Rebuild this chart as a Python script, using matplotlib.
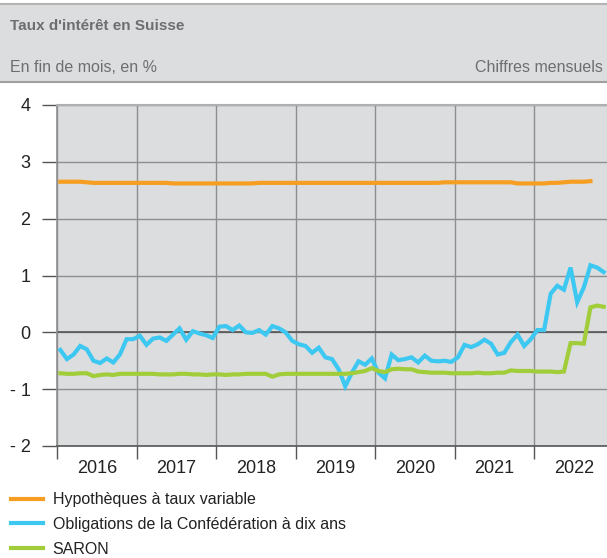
import numpy as np
import matplotlib
matplotlib.use('Agg')
from matplotlib import pyplot as plt
from matplotlib.lines import Line2D

plt.rcParams['font.family'] = ['Liberation Sans', 'DejaVu Sans']

# monthly values, Jan 2016 onward
hypotheques = [
    2.65, 2.65, 2.65, 2.65, 2.64, 2.63, 2.63, 2.63, 2.63, 2.63, 2.63, 2.63,
    2.63, 2.63, 2.63, 2.63, 2.63, 2.62, 2.62, 2.62, 2.62, 2.62, 2.62, 2.62,
    2.62, 2.62, 2.62, 2.62, 2.62, 2.62, 2.63, 2.63, 2.63, 2.63, 2.63, 2.63,
    2.63, 2.63, 2.63, 2.63, 2.63, 2.63, 2.63, 2.63, 2.63, 2.63, 2.63, 2.63,
    2.63, 2.63, 2.63, 2.63, 2.63, 2.63, 2.63, 2.63, 2.63, 2.63, 2.64, 2.64,
    2.64, 2.64, 2.64, 2.64, 2.64, 2.64, 2.64, 2.64, 2.64, 2.62, 2.62, 2.62,
    2.62, 2.62, 2.63, 2.63, 2.64, 2.65, 2.65, 2.65, 2.66,
]
obligations = [
    -0.31, -0.47, -0.39, -0.24, -0.30, -0.50, -0.54, -0.46, -0.53, -0.39, -0.12, -0.12,
    -0.06, -0.22, -0.11, -0.09, -0.15, -0.04, 0.07, -0.13, 0.02, -0.02, -0.05, -0.10,
    0.10, 0.11, 0.04, 0.12, 0.00, -0.01, 0.04, -0.04, 0.11, 0.07, 0.00, -0.15,
    -0.21, -0.24, -0.36, -0.27, -0.44, -0.47, -0.65, -0.95, -0.71, -0.51, -0.57, -0.46,
    -0.71, -0.81, -0.39, -0.49, -0.47, -0.44, -0.53, -0.41, -0.50, -0.51, -0.50, -0.52,
    -0.44, -0.22, -0.26, -0.21, -0.13, -0.20, -0.39, -0.36, -0.17, -0.04, -0.24, -0.12,
    0.04, 0.04, 0.68, 0.82, 0.75, 1.14, 0.53, 0.79, 1.18, 1.14, 1.06,
]
saron = [
    -0.72, -0.73, -0.73, -0.72, -0.72, -0.77, -0.75, -0.74, -0.75, -0.73, -0.73, -0.73,
    -0.73, -0.73, -0.73, -0.74, -0.74, -0.74, -0.73, -0.73, -0.74, -0.74, -0.75, -0.74,
    -0.74, -0.75, -0.74, -0.74, -0.73, -0.73, -0.73, -0.73, -0.78, -0.74, -0.73, -0.73,
    -0.73, -0.73, -0.73, -0.73, -0.73, -0.73, -0.73, -0.73, -0.72, -0.70, -0.68, -0.63,
    -0.68, -0.70, -0.65, -0.64, -0.65, -0.65, -0.69, -0.70, -0.71, -0.71, -0.71, -0.72,
    -0.72, -0.72, -0.72, -0.71, -0.72, -0.72, -0.71, -0.71, -0.67, -0.68, -0.68, -0.68,
    -0.69, -0.69, -0.69, -0.70, -0.69, -0.19, -0.19, -0.20, 0.44, 0.47, 0.45,
]
years = ['2016', '2017', '2018', '2019', '2020', '2021', '2022']
yticks = [-2, -1, 0, 1, 2, 3, 4]
labels = ['Hypothèques à taux variable',
          'Obligations de la Confédération à dix ans',
          'SARON']
colors = ['#f59e22', '#3dc8f2', '#a2cd3a']

fig = plt.figure(figsize=(6.07, 5.58), dpi=100)

# header box
hdr = fig.add_axes([0, 1 - 82/558, 1, 78/558])
hdr.set_xlim(0, 1), hdr.set_ylim(0, 1)
hdr.set_facecolor('#dcdddf')
for s in ['left', 'right']:
    hdr.spines[s].set_visible(False)
hdr.spines['top'].set_color('#b4b4b4')
hdr.spines['bottom'].set_color('#a0a0a0')
hdr.spines['top'].set_linewidth(1.5)
hdr.spines['bottom'].set_linewidth(1.5)
hdr.set_xticks([]), hdr.set_yticks([])
hdr.text(10/607, 0.72, "Taux d'intérêt en Suisse", fontsize=11, fontweight='bold',
         color='#6e6e6e', va='center', ha='left')
hdr.text(10/607, 0.19, 'En fin de mois, en %', fontsize=11.5, color='#6e6e6e',
         va='center', ha='left')
hdr.text(603/607, 0.19, 'Chiffres mensuels', fontsize=11.5, color='#6e6e6e',
         va='center', ha='right')

ax = fig.add_axes([57/607, 1 - 446/558, 550/607, 341/558])
ax.set_facecolor('#dcdddf')
n_months = 7 * 12 - 1
ax.set_xlim(0, n_months)
ax.set_ylim(-2, 4)

for vals, c in zip([hypotheques, obligations, saron], colors):
    x = np.arange(len(vals)) + 0.5
    ax.plot(x, vals, color=c, lw=3, solid_joinstyle='miter', zorder=3)

ax.set_yticks(yticks)
ax.set_yticklabels([str(v).replace('-', '- ') for v in yticks])
ax.set_xticks(np.arange(0, n_months, 12))
ax.set_xticklabels([])
ax.set_xticks(np.arange(6, n_months + 6, 12), minor=True)
ax.set_xticklabels(years, minor=True)
ax.tick_params(axis='x', which='major', length=9, width=1, color='#555555', direction='out')
ax.tick_params(axis='x', which='minor', length=0, pad=10, labelsize=13, labelcolor='#222222')
ax.tick_params(axis='y', length=11, width=1, color='#555555', pad=8,
               labelsize=13, labelcolor='#222222')

ax.grid(True, which='major', color='#8e8e8e', lw=1, zorder=1)
ax.axhline(0, color='#555555', lw=1.2, zorder=2)
ax.set_axisbelow(True)
ax.spines['top'].set_color('#b0b0b0')
ax.spines['top'].set_linewidth(1.5)
ax.spines['right'].set_visible(False)
ax.spines['left'].set_color('#8e8e8e')
ax.spines['left'].set_linewidth(1.2)
ax.spines['bottom'].set_color('#555555')
ax.spines['bottom'].set_linewidth(1.2)

handles = [Line2D([0], [0], color=c, lw=3) for c in colors]
fig.legend(handles, labels, loc='upper left', bbox_to_anchor=(0.0, 1 - 481/558),
           frameon=False, fontsize=11.5, handlelength=2.0, handletextpad=0.6,
           labelspacing=0.62, borderaxespad=0.3, labelcolor='#222222')

fig.savefig('out.png', dpi=100)
